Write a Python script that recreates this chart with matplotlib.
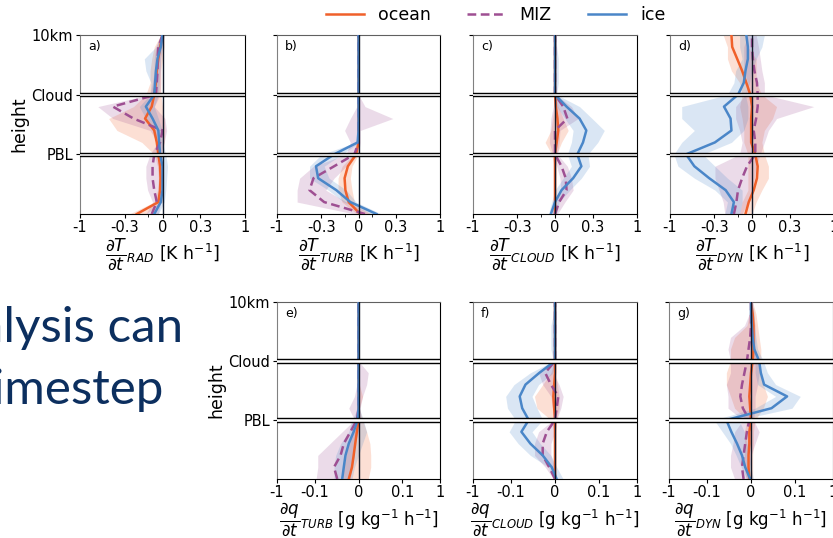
import numpy as np
import matplotlib.pyplot as plt

# vertical levels: 0 = surface, 1 = PBL top, 2 = cloud top, 3 = 10 km
heights = [0.0, 0.2, 0.4, 0.6, 0.8, 1.0, 1.2, 1.4, 1.6, 1.8, 2.0, 2.2, 2.4, 2.6, 2.8, 3.0]
height_ticks = [1, 2, 3]
height_labels = ['PBL', 'Cloud', '10km']
regimes = ['ocean', 'MIZ', 'ice']
T_ticks = [-1, -0.3, 0, 0.3, 1]
T_ticklabels = ['-1', '-0.3', '0', '0.3', '1']
q_ticks = [-1, -0.1, 0, 0.1, 1]
q_ticklabels = ['-1', '-0.1', '0', '0.1', '1']

# a) dT/dt RAD [K/h]
rad_ocean = [-0.19, -0.029, -0.017, -0.014, -0.017, -0.029, -0.04, -0.058, -0.125, -0.076, -0.058, -0.046, -0.04, -0.029, -0.017, 0.0]
rad_ocean_lo = [-0.255, -0.058, -0.035, -0.029, -0.035, -0.058, -0.15, -0.381, -0.482, -0.218, -0.119, -0.088, -0.088, -0.076, -0.058, -0.012]
rad_ocean_hi = [-0.119, 0.0, 0.0, 0.0, 0.0, 0.0, 0.012, 0.017, 0.012, 0.0, -0.012, -0.012, -0.012, 0.0, 0.012, 0.012]
rad_miz = [-0.076, -0.04, -0.058, -0.07, -0.07, -0.058, -0.017, 0.0, -0.218, -0.428, -0.046, -0.04, -0.035, -0.035, -0.029, 0.0]
rad_miz_lo = [-0.119, -0.07, -0.106, -0.119, -0.119, -0.088, -0.035, -0.088, -0.428, -0.642, -0.088, -0.07, -0.058, -0.058, -0.046, -0.012]
rad_miz_hi = [-0.029, -0.012, -0.017, -0.023, -0.029, -0.017, 0.012, 0.029, 0.017, -0.058, -0.017, -0.012, -0.012, -0.012, -0.006, 0.012]
rad_ice = [-0.058, -0.012, 0.0, 0.0, 0.0, -0.017, -0.023, -0.029, -0.07, -0.119, -0.058, -0.052, -0.046, -0.035, -0.012, 0.0]
rad_ice_lo = [-0.088, -0.029, -0.017, -0.017, -0.017, -0.029, -0.046, -0.07, -0.119, -0.17, -0.088, -0.082, -0.119, -0.131, -0.046, -0.012]
rad_ice_hi = [-0.029, 0.012, 0.023, 0.029, 0.035, 0.023, 0.0, 0.0, -0.029, -0.058, -0.029, -0.023, -0.017, -0.012, 0.0, 0.012]

# b) dT/dt TURB [K/h]
turb_ocean = [0.012, -0.07, -0.094, -0.1, -0.076, -0.017, 0, 0, 0, 0, 0, 0, 0, 0, 0, 0]
turb_ocean_lo = [-0.012, -0.119, -0.15, -0.15, -0.119, -0.035, -0.006, -0.006, -0.006, -0.006, -0.006, -0.006, -0.006, -0.006, -0.006, -0.006]
turb_ocean_hi = [0.088, -0.029, -0.046, -0.058, -0.046, 0.0, 0.006, 0.006, 0.006, 0.006, 0.006, 0.006, 0.006, 0.006, 0.006, 0.006]
turb_miz = [0.046, -0.27, -0.428, -0.381, -0.182, -0.029, 0, 0, 0, 0, 0, 0, 0, 0, 0, 0]
turb_miz_lo = [-0.029, -0.601, -0.601, -0.563, -0.381, -0.088, -0.058, -0.1, -0.058, -0.012, 0, 0, 0, 0, 0, 0]
turb_miz_hi = [0.088, -0.088, -0.255, -0.182, -0.088, 0.0, 0.012, 0.012, 0.27, 0.046, 0, 0, 0, 0, 0, 0]
turb_ice = [0.131, -0.058, -0.164, -0.33, -0.353, -0.182, -0.006, 0, 0, 0, 0, 0, 0, 0, 0, 0]
turb_ice_lo = [0.088, -0.106, -0.232, -0.428, -0.428, -0.294, -0.017, -0.006, -0.006, -0.006, -0.006, -0.006, -0.006, -0.006, -0.006, -0.006]
turb_ice_hi = [0.17, -0.017, -0.088, -0.225, -0.27, -0.119, 0.006, 0.006, 0.006, 0.006, 0.006, 0.006, 0.006, 0.006, 0.006, 0.006]

# c) dT/dt CLOUD [K/h]
cloud_ocean = [0, 0, 0, 0, 0, 0, 0.012, 0.023, 0.017, 0.006, 0, 0, 0, 0, 0, 0]
cloud_ocean_lo = [-0.012, -0.006, -0.006, -0.006, -0.006, -0.023, -0.07, -0.029, -0.017, -0.006, -0.006, -0.006, -0.006, -0.006, -0.006, -0.006]
cloud_ocean_hi = [0.006, 0.006, 0.006, 0.006, 0.006, 0.012, 0.046, 0.094, 0.058, 0.023, 0.006, 0.006, 0.006, 0.006, 0.006, 0.006]
cloud_miz = [0.0, 0.029, 0.082, 0.076, 0.046, 0.0, 0.0, 0.0, 0.088, 0.058, 0, 0, 0, 0, 0, 0]
cloud_miz_lo = [-0.017, 0.0, 0.04, 0.035, 0.012, -0.017, -0.04, -0.035, -0.029, -0.012, -0.006, -0.006, -0.006, -0.006, -0.006, -0.006]
cloud_miz_hi = [0.017, 0.07, 0.131, 0.119, 0.088, 0.017, 0.029, 0.035, 0.17, 0.119, 0.006, 0.006, 0.006, 0.006, 0.006, 0.006]
cloud_ice = [-0.029, 0.0, 0.046, 0.131, 0.197, 0.164, 0.211, 0.24, 0.182, 0.082, 0, 0, 0, 0, 0, 0]
cloud_ice_lo = [-0.046, -0.023, 0.0, 0.058, 0.118, 0.088, 0.118, 0.131, 0.07, 0.012, -0.006, -0.006, -0.006, -0.006, -0.006, -0.006]
cloud_ice_hi = [0.012, 0.029, 0.106, 0.197, 0.27, 0.255, 0.353, 0.428, 0.294, 0.182, 0.012, 0.023, 0.023, 0.023, 0.012, 0.006]

# d) dT/dt DYN [K/h]
dyn_ocean = [-0.046, -0.023, 0.012, 0.035, 0.04, 0.023, -0.006, -0.006, -0.006, 0.0, -0.012, -0.04, -0.07, -0.106, -0.144, -0.15]
dyn_ocean_lo = [-0.088, -0.07, -0.029, -0.029, -0.029, -0.029, -0.058, -0.058, -0.07, -0.088, -0.07, -0.088, -0.15, -0.182, -0.182, -0.218]
dyn_ocean_hi = [0.0, 0.029, 0.07, 0.118, 0.118, 0.088, 0.07, 0.088, 0.15, 0.182, 0.07, 0.029, 0.029, 0.029, -0.029, -0.029]
dyn_miz = [-0.131, -0.112, -0.1, -0.07, -0.035, 0.023, 0.023, 0.012, 0.029, 0.04, 0.04, 0.035, 0.017, 0.006, 0.0, 0.0]
dyn_miz_lo = [-0.204, -0.218, -0.255, -0.294, -0.294, -0.088, -0.07, -0.088, -0.118, -0.118, -0.046, -0.029, -0.058, -0.058, -0.058, -0.029]
dyn_miz_hi = [-0.07, -0.029, 0.0, 0.017, 0.029, 0.058, 0.088, 0.118, 0.182, 0.601, 0.088, 0.088, 0.07, 0.058, 0.046, 0.029]
dyn_ice = [-0.15, -0.131, -0.197, -0.353, -0.539, -0.67, -0.294, -0.15, -0.157, -0.211, -0.1, -0.058, -0.046, -0.029, -0.029, -0.04]
dyn_ice_lo = [-0.204, -0.182, -0.294, -0.539, -0.821, -0.909, -0.748, -0.539, -0.748, -0.748, -0.182, -0.131, -0.118, -0.07, -0.088, -0.088]
dyn_ice_hi = [-0.088, -0.07, -0.07, -0.182, -0.294, -0.428, -0.15, -0.058, -0.029, -0.029, -0.046, -0.017, 0.0, 0.029, 0.07, 0.088]

# e) dq/dt TURB [g/kg/h]
qturb_ocean = [-0.0088, -0.0057, -0.0042, -0.0028, -0.0014, 0, 0, 0, 0, 0, 0, 0, 0, 0, 0, 0]
qturb_ocean_lo = [-0.0163, -0.0143, -0.0114, -0.0088, -0.0057, -0.0014, -0.0007, -0.0007, -0.0007, -0.0007, -0.0007, -0.0007, -0.0007, -0.0007, -0.0007, -0.0007]
qturb_ocean_hi = [0.0088, 0.0114, 0.0114, 0.0105, 0.0072, 0.0035, 0.0007, 0.0035, 0.0007, 0.0007, 0.0007, 0.0007, 0.0007, 0.0007, 0.0007, 0.0007]
qturb_miz = [-0.0236, -0.0295, -0.0185, -0.0143, -0.0072, -0.0014, 0, 0, 0, 0, 0, 0, 0, 0, 0, 0]
qturb_miz_lo = [-0.092, -0.083, -0.083, -0.0385, -0.0163, -0.0035, -0.0088, -0.0035, -0.0014, -0.0014, 0, 0, 0, 0, 0, 0]
qturb_miz_hi = [-0.0072, -0.0057, -0.0035, -0.0035, 0.0, 0.0014, 0.0014, 0.0035, 0.0072, 0.0088, 0, 0, 0, 0, 0, 0]
qturb_ice = [-0.0163, -0.0143, -0.0123, -0.0088, -0.0042, -0.0007, 0, 0, 0, 0, 0, 0, 0, 0, 0, 0]
qturb_ice_lo = [-0.0295, -0.0295, -0.0264, -0.0185, -0.0088, -0.0057, -0.0007, -0.0007, -0.0007, -0.0007, -0.0007, -0.0007, -0.0007, -0.0007, -0.0007, -0.0007]
qturb_ice_hi = [-0.0057, -0.0035, 0.0, 0.0035, 0.0072, 0.0042, 0.0007, 0.0007, 0.0007, 0.0007, 0.0007, 0.0007, 0.0007, 0.0007, 0.0007, 0.0007]

# f) dq/dt CLOUD [g/kg/h]
qcloud_ocean = [0, 0, 0, 0, 0, 0, -0.0007, -0.0014, -0.0007, 0, 0, 0, 0, 0, 0, 0]
qcloud_ocean_lo = [-0.0007, -0.0007, -0.0007, -0.0007, -0.0007, -0.0035, -0.0185, -0.0222, -0.0114, -0.0035, -0.0007, -0.0007, -0.0007, -0.0007, -0.0007, -0.0007]
qcloud_ocean_hi = [0.0007, 0.0007, 0.0007, 0.0007, 0.0007, 0.0014, 0.0035, 0.0035, 0.0021, 0.0007, 0.0007, 0.0007, 0.0007, 0.0007, 0.0007, 0.0007]
qcloud_miz = [0.0, -0.005, -0.0114, -0.0114, -0.0072, 0.0, 0.0014, 0.0028, -0.0035, -0.0088, 0, 0, 0, 0, 0, 0]
qcloud_miz_lo = [-0.0014, -0.0088, -0.0222, -0.0222, -0.0163, -0.0014, -0.0021, -0.0035, -0.0114, -0.0163, -0.0007, -0.0007, -0.0007, -0.0007, -0.0007, -0.0007]
qcloud_miz_hi = [0.0014, 0.0, -0.0035, -0.0035, 0.0, 0.0014, 0.005, 0.0072, 0.0035, -0.0021, 0.0007, 0.0007, 0.0007, 0.0007, 0.0007, 0.0007]
qcloud_ice = [0.0014, -0.0028, -0.0114, -0.0295, -0.0526, -0.0329, -0.05, -0.0584, -0.0406, -0.0153, 0, 0, 0, 0, 0, 0]
qcloud_ice_lo = [-0.0014, -0.0057, -0.0295, -0.0645, -0.112, -0.0752, -0.124, -0.138, -0.083, -0.0295, -0.0014, -0.0035, -0.0035, -0.0035, -0.0014, -0.0007]
qcloud_ice_hi = [0.0072, 0.0014, -0.0035, -0.0143, -0.0264, -0.0114, -0.0185, -0.0264, -0.0163, -0.0014, 0.0014, 0.0007, 0.0007, 0.0007, 0.0007, 0.0007]

# g) dq/dt DYN [g/kg/h]
qdyn_ocean = [-0.0014, -0.0021, -0.0021, -0.0014, -0.0014, 0.0, -0.0007, -0.0014, -0.0007, 0.0, 0.0014, 0.0021, 0.0021, 0.0021, 0.0014, 0.0]
qdyn_ocean_lo = [-0.0042, -0.0057, -0.0057, -0.0057, -0.0057, -0.0035, -0.0163, -0.0222, -0.0295, -0.0295, -0.0222, -0.0222, -0.0163, -0.0035, -0.0014, -0.0014]
qdyn_ocean_hi = [0.0014, 0.0014, 0.0014, 0.0021, 0.0021, 0.0035, 0.0114, 0.0163, 0.0114, 0.0072, 0.0088, 0.0088, 0.0072, 0.0057, 0.0042, 0.0014]
qdyn_miz = [-0.0065, -0.008, -0.0065, -0.005, -0.0035, -0.0014, -0.0072, -0.0097, -0.008, -0.0057, -0.0035, -0.0021, -0.0007, 0, 0, 0]
qdyn_miz_lo = [-0.0163, -0.0222, -0.0222, -0.0185, -0.0163, -0.0072, -0.0264, -0.0264, -0.0295, -0.0222, -0.0222, -0.0264, -0.0222, -0.0057, -0.0014, -0.0007]
qdyn_miz_hi = [-0.0014, -0.0014, 0.0, 0.0035, 0.0072, 0.0021, 0.0035, 0.0035, 0.0057, 0.0072, 0.0057, 0.0035, 0.0035, 0.0035, 0.0021, 0.0007]
qdyn_ice = [-0.0007, -0.005, -0.008, -0.0133, -0.0209, -0.0295, 0.0222, 0.0613, 0.0123, 0.0088, 0.0072, 0.0028, 0.0014, 0.0007, 0, 0]
qdyn_ice_lo = [-0.0035, -0.0088, -0.0143, -0.0222, -0.0385, -0.0645, 0.0035, 0.0295, 0.0057, 0.0035, 0.0035, 0.0, -0.0007, -0.0007, -0.0014, -0.0014]
qdyn_ice_hi = [0.0021, 0.0, -0.0014, -0.0035, -0.0057, -0.0114, 0.083, 0.138, 0.0295, 0.0163, 0.0114, 0.0057, 0.0042, 0.0028, 0.0028, 0.0014]

COLORS = {'ocean': '#f0602a', 'MIZ': '#9e4f92', 'ice': '#4a86c8'}
STYLES = {'ocean': '-', 'MIZ': (0, (3.5, 1.8)), 'ice': '-'}
W, H = 833, 538


def px_axes(fig, x0, y0, x1, y1):
    return fig.add_axes([x0 / W, 1 - y1 / H, (x1 - x0) / W, (y1 - y0) / H])


def draw_panel(ax, series, letter, lin, ticks, ticklabels, xlabel, show_y, xlabelpad, xlabelsize):
    ax.set_xscale('function', functions=(lambda x: np.arcsinh(x / lin),
                                         lambda u: lin * np.sinh(u)))
    for name, (mean, lo, hi) in zip(regimes, series):
        ax.fill_betweenx(heights, lo, hi, color=COLORS[name], alpha=0.2, lw=0, zorder=2)
    for name, (mean, lo, hi) in zip(regimes, series):
        ax.plot(mean, heights, color=COLORS[name], ls=STYLES[name], lw=1.8, zorder=3, label=name)
    ax.axvline(0, color='#101828', lw=1.0, zorder=3.5)
    for yb in [1, 2]:
        ax.axhspan(yb - 0.028, yb + 0.028, color='white', lw=0, zorder=4)
        ax.axhline(yb - 0.028, color='black', lw=1.0, zorder=5)
        ax.axhline(yb + 0.028, color='black', lw=1.0, zorder=5)
    ax.set_xlim(-1, 1)
    ax.set_ylim(0, 3)
    ax.set_xticks(ticks)
    ax.set_xticklabels(ticklabels, fontsize=10.5)
    ax.set_xticks([-0.1, 0.1] if lin > 0.1 else [], minor=True)
    ax.tick_params(axis='x', which='minor', length=2)
    ax.set_yticks(height_ticks)
    if show_y:
        ax.set_yticklabels(height_labels, fontsize=10.5)
        ax.set_ylabel('height', fontsize=12.5, labelpad=2)
    else:
        ax.set_yticklabels([])
    ax.tick_params(axis='y', length=3, pad=2)
    ax.tick_params(axis='x', length=3, pad=1.5)
    ax.set_xlabel(xlabel, fontsize=xlabelsize, labelpad=xlabelpad)
    ax.text(0.05, 0.97, letter, transform=ax.transAxes, ha='left', va='top', fontsize=9)
    ax.spines['left'].set_color('#808080')
    ax.spines['top'].set_color('#606060')


fig = plt.figure(figsize=(W / 100, H / 100), dpi=100)

top_cols = [(80, 245), (277, 440), (473, 637), (670, 834)]
bot_cols = [(277, 440), (473, 637), (669, 833)]

top = [
    ([(rad_ocean, rad_ocean_lo, rad_ocean_hi), (rad_miz, rad_miz_lo, rad_miz_hi), (rad_ice, rad_ice_lo, rad_ice_hi)],
     'a)', r'$\dfrac{\partial T}{\partial t}_{RAD}$ [K h$^{-1}$]'),
    ([(turb_ocean, turb_ocean_lo, turb_ocean_hi), (turb_miz, turb_miz_lo, turb_miz_hi), (turb_ice, turb_ice_lo, turb_ice_hi)],
     'b)', r'$\dfrac{\partial T}{\partial t}_{TURB}$ [K h$^{-1}$]'),
    ([(cloud_ocean, cloud_ocean_lo, cloud_ocean_hi), (cloud_miz, cloud_miz_lo, cloud_miz_hi), (cloud_ice, cloud_ice_lo, cloud_ice_hi)],
     'c)', r'$\dfrac{\partial T}{\partial t}_{CLOUD}$ [K h$^{-1}$]'),
    ([(dyn_ocean, dyn_ocean_lo, dyn_ocean_hi), (dyn_miz, dyn_miz_lo, dyn_miz_hi), (dyn_ice, dyn_ice_lo, dyn_ice_hi)],
     'd)', r'$\dfrac{\partial T}{\partial t}_{DYN}$ [K h$^{-1}$]'),
]
bottom = [
    ([(qturb_ocean, qturb_ocean_lo, qturb_ocean_hi), (qturb_miz, qturb_miz_lo, qturb_miz_hi), (qturb_ice, qturb_ice_lo, qturb_ice_hi)],
     'e)', r'$\dfrac{\partial q}{\partial t}_{TURB}$ [g kg$^{-1}$ h$^{-1}$]'),
    ([(qcloud_ocean, qcloud_ocean_lo, qcloud_ocean_hi), (qcloud_miz, qcloud_miz_lo, qcloud_miz_hi), (qcloud_ice, qcloud_ice_lo, qcloud_ice_hi)],
     'f)', r'$\dfrac{\partial q}{\partial t}_{CLOUD}$ [g kg$^{-1}$ h$^{-1}$]'),
    ([(qdyn_ocean, qdyn_ocean_lo, qdyn_ocean_hi), (qdyn_miz, qdyn_miz_lo, qdyn_miz_hi), (qdyn_ice, qdyn_ice_lo, qdyn_ice_hi)],
     'g)', r'$\dfrac{\partial q}{\partial t}_{DYN}$ [g kg$^{-1}$ h$^{-1}$]'),
]

for i, ((x0, x1), (series, letter, xlabel)) in enumerate(zip(top_cols, top)):
    ax = px_axes(fig, x0, 35, x1, 214)
    draw_panel(ax, series, letter, 0.3, T_ticks, T_ticklabels, xlabel, i == 0, 1, 12.5)
    if i == 0:
        handles, labels = ax.get_legend_handles_labels()

for i, ((x0, x1), (series, letter, xlabel)) in enumerate(zip(bot_cols, bottom)):
    ax = px_axes(fig, x0, 302, x1, 479)
    draw_panel(ax, series, letter, 0.014, q_ticks, q_ticklabels, xlabel, i == 0, 0, 12)

fig.legend(handles, labels, loc='center', bbox_to_anchor=(0.595, 0.972), ncol=3,
           frameon=False, fontsize=12.5, handlelength=2.2, handletextpad=0.8,
           columnspacing=2.1)

# leftover slide text behind the figure
fig.text(183 / W, 1 - 342 / H, 'Analysis can', ha='right', va='baseline',
         fontsize=35.5, color='#0c2f5f', family='Lato')
fig.text(163 / W, 1 - 404 / H, 'timestep', ha='right', va='baseline',
         fontsize=35.5, color='#0c2f5f', family='Lato')

fig.savefig('out.png', dpi=100)
